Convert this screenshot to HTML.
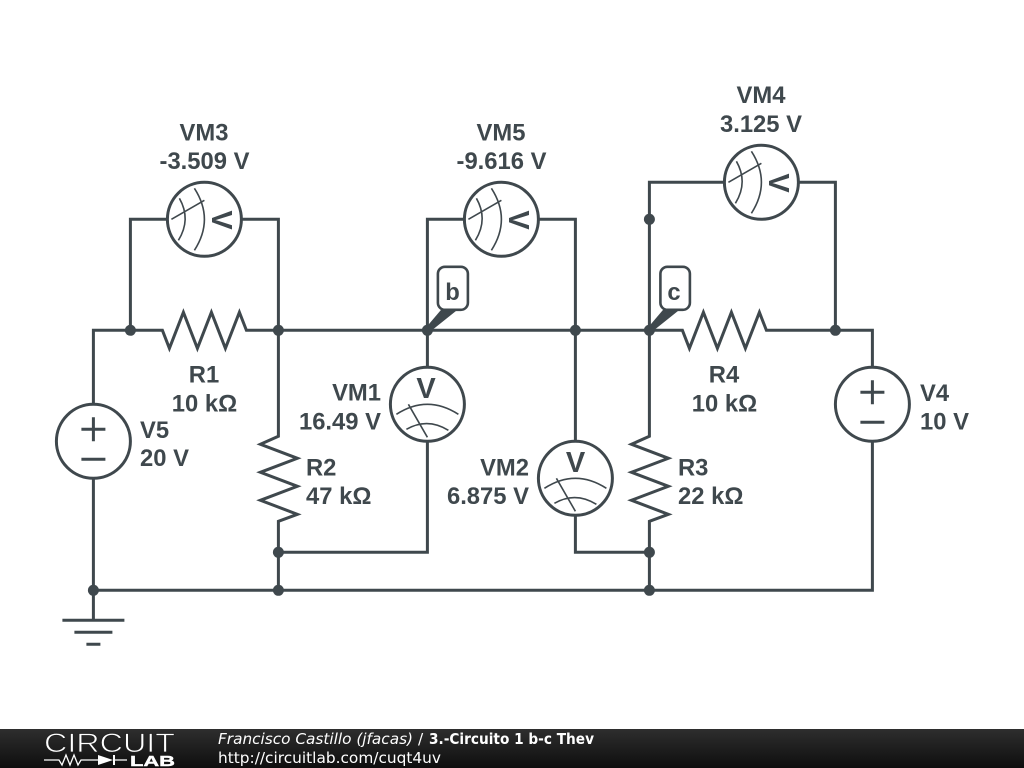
<!DOCTYPE html>
<html><head><meta charset="utf-8"><style>
html,body{margin:0;padding:0;background:#fff;width:1024px;height:768px;overflow:hidden}
svg{display:block}
.w{fill:none;stroke:#3f484d;stroke-width:3;stroke-linejoin:miter}
.t{fill:none;stroke:#3f484d;stroke-width:1.6}
.l{font:bold 23.8px "Liberation Sans",sans-serif;fill:#3f484d}
.m{text-anchor:middle}.e{text-anchor:end}
.f{font-family:"DejaVu Sans",sans-serif;font-size:15.4px;fill:#fff}
</style></head><body>
<svg width="1024" height="768" viewBox="0 0 1024 768" xmlns="http://www.w3.org/2000/svg">
<defs><linearGradient id="g" x1="0" y1="0" x2="0" y2="1"><stop offset="0" stop-color="#2e2e2e"/><stop offset="1" stop-color="#0e0e0e"/></linearGradient></defs>
<rect width="1024" height="768" fill="#fff"/>
<g transform="translate(0.4,0.3)">
<g class="w">
<path d="M93 404V330H162L169 348L183 312L197 348L211 312L225 348L239 312L246 330H427"/>
<path d="M93 478V590H872V441"/>
<path d="M872 367V330H766L759 312L745 348L731 312L717 348L703 312L689 348L682 330H427"/>
<path d="M130 330V219H167M241 219H278V330"/>
<path d="M427 330V219H464M538 219H575V441"/>
<path d="M649 330V182H724M798 182H835V330"/>
<path d="M427 330V367M427 441V552H278"/>
<path d="M575 515V552H649"/>
<path d="M278 330V436L260 444L297 458L260 472L297 486L260 500L297 514L278 521V590"/>
<path d="M649 330V436L631 444L668 458L631 472L668 486L631 500L668 514L649 521V590"/>
<path d="M93 590V620M62 620H124M74 632H112M86 644H100"/>
<circle cx="93" cy="441" r="37"/><circle cx="872" cy="404" r="37"/>
<path d="M81 429H105M93 417V441M81 459H105M860 392H884M872 380V404M860 422H884"/>
<circle cx="204" cy="219" r="37" fill="#fff"/><circle cx="501" cy="219" r="37" fill="#fff"/><circle cx="761" cy="182" r="37" fill="#fff"/>
<circle cx="427" cy="404" r="37" fill="#fff"/><circle cx="575" cy="478" r="37" fill="#fff"/>
</g>
<g class="t">
<g transform="translate(427,404)"><path d="M-31 10Q0 -10 31 10M-21 25Q0 13 21 26M-19 0L0 33"/></g>
<g transform="translate(575,478)"><path d="M-31 10Q0 -10 31 10M-21 25Q0 13 21 26M-19 0L0 33"/></g>
<g transform="translate(204,219) rotate(90)"><path d="M-31 10Q0 -10 31 10M-21 25Q0 13 21 26M-19 0L0 33"/></g>
<g transform="translate(501,219) rotate(90)"><path d="M-31 10Q0 -10 31 10M-21 25Q0 13 21 26M-19 0L0 33"/></g>
<g transform="translate(761,182) rotate(90)"><path d="M-31 10Q0 -10 31 10M-21 25Q0 13 21 26M-19 0L0 33"/></g>
</g>
<g fill="#3f484d">
<circle cx="130" cy="330" r="5.500"/><circle cx="278" cy="330" r="5.500"/><circle cx="427" cy="330" r="5.500"/><circle cx="575" cy="330" r="5.500"/><circle cx="649" cy="330" r="5.500"/><circle cx="835" cy="330" r="5.500"/><circle cx="649" cy="219" r="5.500"/><circle cx="278" cy="552" r="5.500"/><circle cx="649" cy="552" r="5.500"/><circle cx="93" cy="590" r="5.500"/><circle cx="278" cy="590" r="5.500"/><circle cx="649" cy="590" r="5.500"/>
<path d="M425 328L442 308H459L429 332Z"/><path d="M647 328L664 308H681L651 332Z"/>
</g>
<rect x="437.500" y="266.500" width="30" height="43" rx="7" fill="#fff" stroke="#3f484d" stroke-width="2.600"/>
<rect x="660" y="266.500" width="29.500" height="43" rx="7" fill="#fff" stroke="#3f484d" stroke-width="2.600"/>
</g>
<g class="l">
<text x="452.500" y="300" class="m">b</text><text x="674" y="300" class="m">c</text>
<text x="426" y="398" class="m" style="font-size:29px">V</text>
<text x="575.500" y="472" class="m" style="font-size:29px">V</text>
<text transform="translate(212,220) rotate(90)" class="m" y="0" style="font-size:29px">V</text>
<text transform="translate(509,220) rotate(90)" class="m" y="0" style="font-size:29px">V</text>
<text transform="translate(769,183) rotate(90)" class="m" y="0" style="font-size:29px">V</text>
<text x="204" y="140.500" class="m">VM3</text><text x="204.500" y="169" class="m">-3.509 V</text>
<text x="501" y="140.500" class="m">VM5</text><text x="501.500" y="169" class="m">-9.616 V</text>
<text x="761" y="103" class="m">VM4</text><text x="761" y="132" class="m">3.125 V</text>
<text x="204" y="382.500" class="m">R1</text><text x="204.500" y="411.500" class="m">10 kΩ</text>
<text x="724" y="382.500" class="m">R4</text><text x="724.500" y="411.500" class="m">10 kΩ</text>
<text x="306" y="475.500">R2</text><text x="306" y="504">47 kΩ</text>
<text x="678" y="475.500">R3</text><text x="678" y="504">22 kΩ</text>
<text x="381" y="400.500" class="e">VM1</text><text x="381" y="429.500" class="e">16.49 V</text>
<text x="529" y="475.500" class="e">VM2</text><text x="529" y="504" class="e">6.875 V</text>
<text x="140" y="438">V5</text><text x="140" y="466">20 V</text>
<text x="920" y="401">V4</text><text x="920" y="429.500">10 V</text>
</g>
<rect x="0" y="729" width="1024" height="39" fill="url(#g)"/>
<text x="44" y="752" font-family="Liberation Sans,sans-serif" font-size="27" fill="#fff" stroke="#222" stroke-width="0.800" textLength="131" lengthAdjust="spacingAndGlyphs">CIRCUIT</text>
<text x="130" y="766" font-family="Liberation Sans,sans-serif" font-size="15" font-weight="bold" fill="#fff" stroke="#fff" stroke-width="0.400" textLength="45" lengthAdjust="spacingAndGlyphs">LAB</text>
<path d="M44 760H59L62 765L66 755L70 765L74 755L78 765L81 760H98M114 760H127" fill="none" stroke="#fff" stroke-width="1.300"/>
<path d="M98 755L113 760L98 765Z" fill="#fff"/><path d="M114 755V765" stroke="#fff" stroke-width="2"/>
<text x="218" y="744" class="f" font-style="italic" textLength="195" lengthAdjust="spacingAndGlyphs">Francisco Castillo (jfacas)</text>
<text x="418" y="744" class="f">/</text>
<text x="429" y="744" class="f" font-weight="bold" textLength="165" lengthAdjust="spacingAndGlyphs">3.-Circuito 1 b-c Thev</text>
<text x="218" y="763" class="f" textLength="223" lengthAdjust="spacingAndGlyphs">http://circuitlab.com/cuqt4uv</text>
</svg>
</body></html>
